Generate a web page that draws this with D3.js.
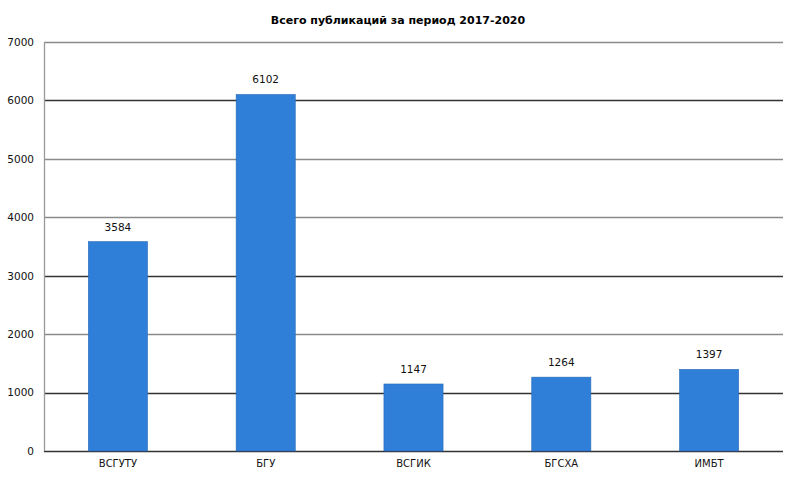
<!DOCTYPE html>
<html><head><meta charset="utf-8">
<script src="https://cdn.jsdelivr.net/npm/d3@7"></script>
<style>body{margin:0;background:#fff}svg{display:block}</style>
</head><body>
<script>
const categories = ["ВСГУТУ", "БГУ", "ВСГИК", "БГСХА", "ИМБТ"];
const values = [3584, 6102, 1147, 1264, 1397];
const yTicks = [0, 1000, 2000, 3000, 4000, 5000, 6000, 7000];
const darkTicks = [0, 1000, 3000, 6000];
const title = "Всего публикаций за период 2017-2020";

const W = 797, H = 481;
const m = {left: 44, right: 14, top: 42, bottom: 30};
const svg = d3.select("body").append("svg").attr("width", W).attr("height", H);
const font = "'DejaVu Sans', Verdana, sans-serif";

const x = d3.scaleBand().domain(categories).range([m.left, W - m.right]).paddingInner(0.6).paddingOuter(0.3);
const y = d3.scaleLinear().domain([0, 7000]).range([H - m.bottom, m.top]);

// gridlines
svg.append("g").selectAll("line").data(yTicks).join("line")
  .attr("x1", m.left).attr("x2", W - m.right)
  .attr("y1", d => Math.round(y(d)) + 0.5).attr("y2", d => Math.round(y(d)) + 0.5)
  .attr("stroke", d => darkTicks.includes(d) ? "#333" : "#8a8a8a")
  .attr("stroke-width", d => darkTicks.includes(d) ? 1.6 : 1.3);

// y axis line
svg.append("line").attr("x1", m.left + 0.5).attr("x2", m.left + 0.5)
  .attr("y1", y(7000)).attr("y2", y(0)).attr("stroke", "#999").attr("stroke-width", 1.3);

// y tick labels
const yAxis = d3.axisLeft(y).tickValues(yTicks).tickSize(0).tickPadding(10).tickFormat(d3.format("d"));
const ga = svg.append("g").attr("transform", `translate(${m.left},0)`).call(yAxis);
ga.select(".domain").remove();
ga.selectAll("text").attr("font-family", font).attr("font-size", 10.5).attr("fill", "#111");

// bars
svg.append("g").selectAll("rect").data(values).join("rect")
  .attr("x", (d, i) => x(categories[i]))
  .attr("width", x.bandwidth())
  .attr("y", d => y(d))
  .attr("height", d => y(0) - y(d))
  .attr("fill", "#2f7ed8")
  .attr("stroke", "#2a6ab8").attr("stroke-width", 0.6);

// value labels
svg.append("g").selectAll("text").data(values).join("text")
  .attr("x", (d, i) => x(categories[i]) + x.bandwidth() / 2)
  .attr("y", d => y(d) - 11)
  .attr("text-anchor", "middle")
  .attr("font-family", font).attr("font-size", 10.5).attr("fill", "#111")
  .text(d => d);

// category labels
const xAxis = d3.axisBottom(x).tickSize(0).tickPadding(9);
const gx = svg.append("g").attr("transform", `translate(0,${y(0)})`).call(xAxis);
gx.select(".domain").remove();
gx.selectAll("text").attr("font-family", font).attr("font-size", 10).attr("fill", "#111");

// title
svg.append("text").attr("x", 398).attr("y", 24).attr("text-anchor", "middle")
  .attr("font-family", font).attr("font-size", 11).attr("font-weight", "bold").attr("fill", "#000")
  .text(title);
</script>
</body></html>
